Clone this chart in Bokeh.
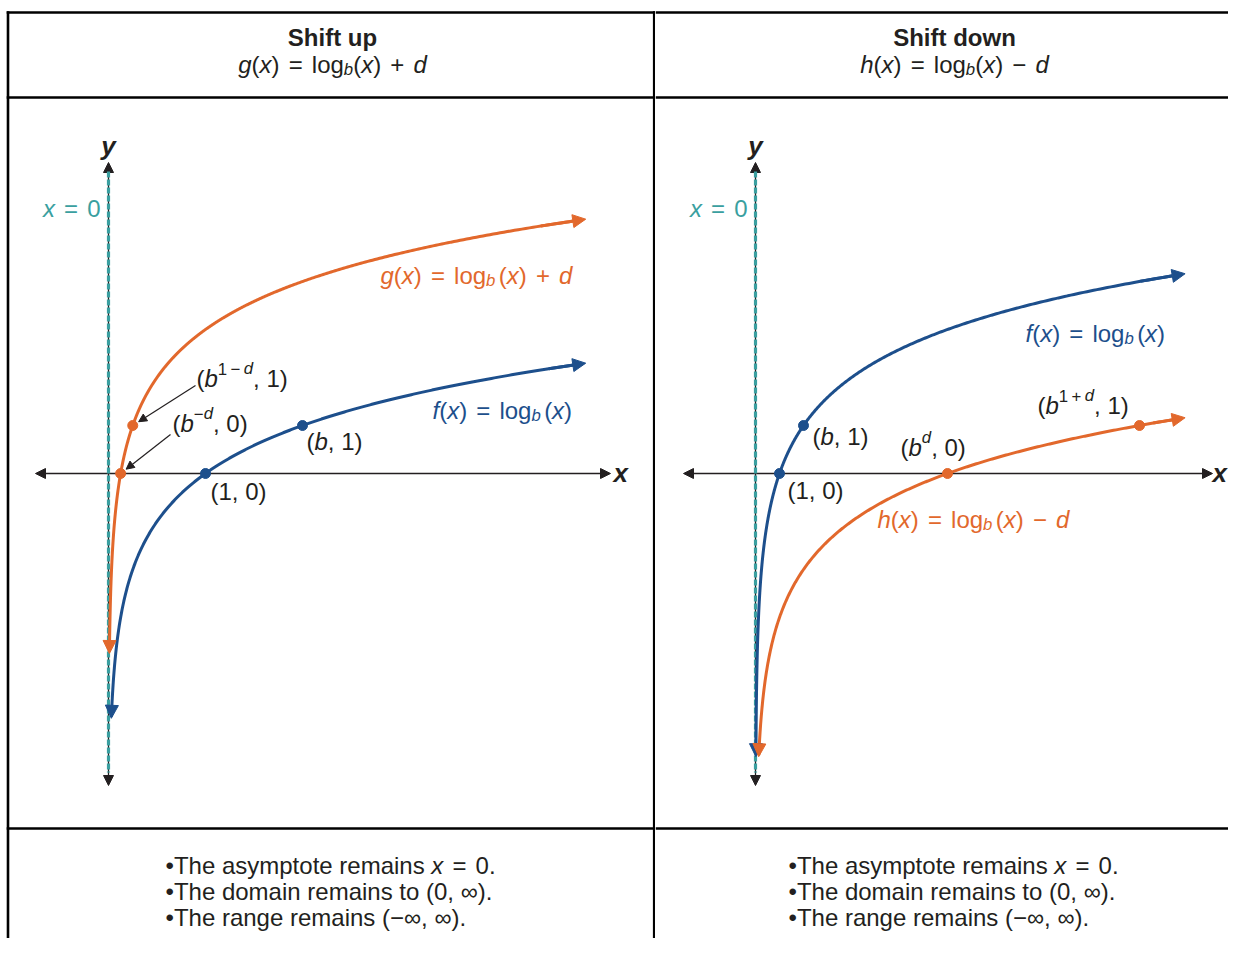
import numpy as np
from bokeh.plotting import figure
from bokeh.layouts import row
from bokeh.models import Label, Arrow, NormalHead
from bokeh.embed import file_html
from bokeh.resources import INLINE

# ---------------- data ----------------
base_b = 2.0          # base of the logarithm
shift_d = 3.0         # vertical shift
left_x_end = 4.92     # right end of curves, left panel
right_x_end = 17.9    # right end of curves, right panel
left_f_ymin = -5.1    # lowest value reached by f (left)
left_g_ymin = -3.75   # lowest value reached by g (left)
right_f_ymin = -5.9   # lowest value reached by f (right)
right_h_ymin = -5.9   # lowest value reached by h (right)

panel_titles = ["Shift up", "Shift down"]
panel_formulas = [
    "i:g|n:(|i:x|n:)|G|n:=|G|n:log|s:b|n:(|i:x|n:)|G|n:+|G|i:d",
    "i:h|n:(|i:x|n:)|G|n:=|G|n:log|s:b|n:(|i:x|n:)|G|n:−|G|i:d",
]
f_label = "i:f|n:(|i:x|n:)|G|n:=|G|n:log|s:b|g|n:(|i:x|n:)"
g_label = "i:g|n:(|i:x|n:)|G|n:=|G|n:log|s:b|g|n:(|i:x|n:)|G|n:+|G|i:d"
h_label = "i:h|n:(|i:x|n:)|G|n:=|G|n:log|s:b|g|n:(|i:x|n:)|G|n:−|G|i:d"
asym_label = "i:x|G|n:=|G|n:0"
left_point_labels = [
    "n:(|i:b|S:1|g|S:−|g|I:d|n:, 1)",
    "n:(|i:b|S:−|I:d|n:, 0)",
    "n:(|i:b|n:, 1)",
    "n:(1, 0)",
]
right_point_labels = [
    "n:(|i:b|n:, 1)",
    "n:(1, 0)",
    "n:(|i:b|I:d|n:, 0)",
    "n:(|i:b|S:1|g|S:+|g|I:d|n:, 1)",
]
footer_lines = [
    "n:•The asymptote remains|W|i:x|G|n:=|G|n:0.",
    "n:•The domain remains to (0, ∞).",
    "n:•The range remains (−∞, ∞).",
]

# ---------------- style ----------------
ORANGE = "#e2682c"
BLUE = "#1d4f8c"
TEAL = "#3a9fa0"
INK = "#231f20"
FONT = "Liberation Sans"
FS = 24
FIG_H = 938

W_REG = {' ': 278, '(': 333, ')': 333, '+': 584, ',': 278, '-': 333, '.': 278, '=': 584,
         '−': 584, '∞': 713, '•': 350, 'a': 556, 'b': 556, 'c': 500, 'd': 556, 'e': 556,
         'f': 278, 'g': 556, 'h': 556, 'i': 222, 'l': 222, 'm': 833, 'n': 556, 'o': 556,
         'p': 556, 'r': 333, 's': 500, 't': 278, 'u': 556, 'x': 500, 'y': 500, 'T': 611,
         'S': 667}
W_BOLD = {'S': 667, 'h': 611, 'i': 278, 'f': 333, 't': 333, ' ': 278, 'u': 611, 'p': 611,
          'd': 611, 'o': 611, 'w': 778, 'n': 611, 'x': 556, 'y': 556}

Y0_PAGE = 473.0   # page y of the x-axis
UY = 48.0         # px per y unit


def text_w(s, size, bold=False):
    tab = W_BOLD if bold else W_REG
    return sum(tab.get(ch, W_REG.get(ch, 556)) for ch in s) * size / 1000.0


class Panel:
    def __init__(self, fig_left, width, ox_page, ux):
        self.ox = ox_page
        self.ux = ux
        x0 = (fig_left - ox_page) / ux
        x1 = (fig_left + width - ox_page) / ux
        y_top = (Y0_PAGE - 0) / UY
        y_bot = (Y0_PAGE - FIG_H) / UY
        p = figure(width=width, height=FIG_H, x_range=(x0, x1), y_range=(y_bot, y_top),
                   output_backend="svg", toolbar_location=None, min_border=0,
                   x_axis_location=None, y_axis_location=None)
        p.grid.visible = False
        p.outline_line_color = None
        p.background_fill_color = "white"
        p.border_fill_color = "white"
        self.p = p
        self.fig_left = fig_left
        self.width = width

    def X(self, xp):
        return (xp - self.ox) / self.ux

    def Y(self, yp):
        return (Y0_PAGE - yp) / UY

    def rich(self, xp, yp, spec, size=FS, color=INK, align="left", bold=False):
        items = []
        total = 0.0
        for tok in spec.split("|"):
            if tok == "G":
                w = 0.38 * size
                items.append((None, w)); total += w; continue
            if tok == "g":
                w = 0.14 * size
                items.append((None, w)); total += w; continue
            if tok == "W":
                w = 0.278 * size
                items.append((None, w)); total += w; continue
            kind, text = tok.split(":", 1)
            ital = kind in ("i", "s", "I")
            pos = {"s": "sub", "S": "sup", "I": "sup"}.get(kind, None)
            fs = size * 0.70 if pos else size
            w = text_w(text, fs, bold)
            items.append((text, ital, pos, fs, w))
            total += w
        if align == "center":
            cur = -total / 2
        elif align == "right":
            cur = -total
        else:
            cur = 0.0
        X, Y = self.X(xp), self.Y(yp)
        for it in items:
            if it[0] is None:
                cur += it[1]
                continue
            text, ital, pos, fs, w = it
            dy = 0.40 * size if pos == "sup" else (-0.22 * size if pos == "sub" else 0.0)
            style = ("bold " if bold else "") + ("italic" if ital else "")
            style = style.strip() or "normal"
            self.p.add_layout(Label(x=X, y=Y, x_offset=cur, y_offset=dy, text=text,
                                    text_font=FONT, text_font_size=f"{fs:.1f}px",
                                    text_font_style=style, text_color=color,
                                    text_align="left", text_baseline="alphabetic"))
            cur += w

    def hlines(self, x_from):
        p = self.p
        xl = self.X(x_from)
        xr = self.X(self.fig_left + self.width)
        for yp in (12, 97, 828):
            p.line([xl, xr], [self.Y(yp), self.Y(yp)], line_color="black", line_width=2.6)

    def vline(self, xp):
        self.p.line([self.X(xp), self.X(xp)], [self.Y(10.7), self.Y(FIG_H)],
                    line_color="black", line_width=2.6)

    def axes(self, x_left_px, x_right_px):
        p = self.p
        p.add_layout(Arrow(start=NormalHead(size=10, fill_color=INK, line_color=INK),
                           end=NormalHead(size=10, fill_color=INK, line_color=INK),
                           x_start=self.X(x_left_px), y_start=0, x_end=self.X(x_right_px), y_end=0,
                           line_color=INK, line_width=1.3, level="underlay"))
        p.add_layout(Arrow(start=NormalHead(size=10, fill_color=INK, line_color=INK),
                           end=NormalHead(size=10, fill_color=INK, line_color=INK),
                           x_start=0, y_start=self.Y(785), x_end=0, y_end=self.Y(162),
                           line_color=INK, line_width=1.3, level="underlay"))
        p.line([0, 0], [self.Y(171), self.Y(772)], line_color=TEAL, line_width=3.2, line_dash="6 2")

    def curve(self, shift, ymin, x_end, color):
        x_start = base_b ** (ymin - shift)
        xs = np.geomspace(x_start, x_end, 700)
        ys = np.log(xs) / np.log(base_b) + shift
        self.p.line(xs[3:-3], ys[3:-3], line_color=color, line_width=3)
        for (a, e) in ((-12, -1), (12, 0)):
            self.p.add_layout(Arrow(end=NormalHead(size=13, fill_color=color, line_color=color),
                                    x_start=xs[a], y_start=ys[a], x_end=xs[e], y_end=ys[e],
                                    line_color=color, line_width=3))

    def points(self, xs, ys, color):
        self.p.scatter(xs, ys, size=10, fill_color=color, line_color=color)


# ---------------- left panel ----------------
L = Panel(0, 655, 108, 97.0)
L.hlines(6.2)
L.vline(7.5)
L.vline(653.7)
L.axes(35, 610)
L.curve(0.0, left_f_ymin, left_x_end, BLUE)
L.curve(shift_d, left_g_ymin, left_x_end, ORANGE)
L.points([1.0, base_b], [0.0, 1.0], BLUE)
L.points([base_b ** (-shift_d), base_b ** (1 - shift_d)], [0.0, 1.0], ORANGE)
# pointer arrows from labels to the shifted points
for (sx, sy), (tx, ty) in (((195, 385), (base_b ** (1 - shift_d), 1.0)),
                           ((170, 434), (base_b ** (-shift_d), 0.0))):
    dxp = (tx * L.ux + L.ox) - sx
    dyp = (Y0_PAGE - ty * UY) - sy
    n = (dxp ** 2 + dyp ** 2) ** 0.5
    L.p.add_layout(Arrow(end=NormalHead(size=8, fill_color=INK, line_color=INK),
                         x_start=L.X(sx), y_start=L.Y(sy),
                         x_end=L.X(sx + dxp * (1 - 7 / n)), y_end=L.Y(sy + dyp * (1 - 7 / n)),
                         line_color=INK, line_width=1.2))
L.rich(108, 145, "i:y", size=26, bold=True, align="center")
L.rich(613, 472, "i:x", size=26, bold=True)
L.rich(100, 208, asym_label, color=TEAL, align="right")
L.rich(380, 275, g_label, color=ORANGE)
L.rich(432, 410, f_label, color=BLUE)
for spec, (xp, yp) in zip(left_point_labels, [(196, 378), (172, 423), (306, 441), (210, 491)]):
    L.rich(xp, yp, spec)
L.rich(332, 37, "n:" + panel_titles[0], bold=True, align="center")
L.rich(332, 64, panel_formulas[0], align="center")
for i, spec in enumerate(footer_lines):
    L.rich(165, 865 + 26 * i, spec)

# ---------------- right panel ----------------
R = Panel(655, 573, 755, 24.0)
R.hlines(655)
R.axes(683, 1212)
R.curve(0.0, right_f_ymin, right_x_end, BLUE)
R.curve(-shift_d, right_h_ymin, right_x_end, ORANGE)
R.points([1.0, base_b], [0.0, 1.0], BLUE)
R.points([base_b ** shift_d, base_b ** (1 + shift_d)], [0.0, 1.0], ORANGE)
R.rich(755, 145, "i:y", size=26, bold=True, align="center")
R.rich(1212, 472, "i:x", size=26, bold=True)
R.rich(747, 208, asym_label, color=TEAL, align="right")
R.rich(1025, 333, f_label, color=BLUE)
R.rich(877, 519, h_label, color=ORANGE)
for spec, (xp, yp) in zip(right_point_labels, [(812, 436), (787, 490), (900, 447), (1037, 405)]):
    R.rich(xp, yp, spec)
R.rich(954, 37, "n:" + panel_titles[1], bold=True, align="center")
R.rich(954, 64, panel_formulas[1], align="center")
for i, spec in enumerate(footer_lines):
    R.rich(788, 865 + 26 * i, spec)

layout = row(L.p, R.p)
open("out.html", "w").write(file_html(layout, INLINE))
